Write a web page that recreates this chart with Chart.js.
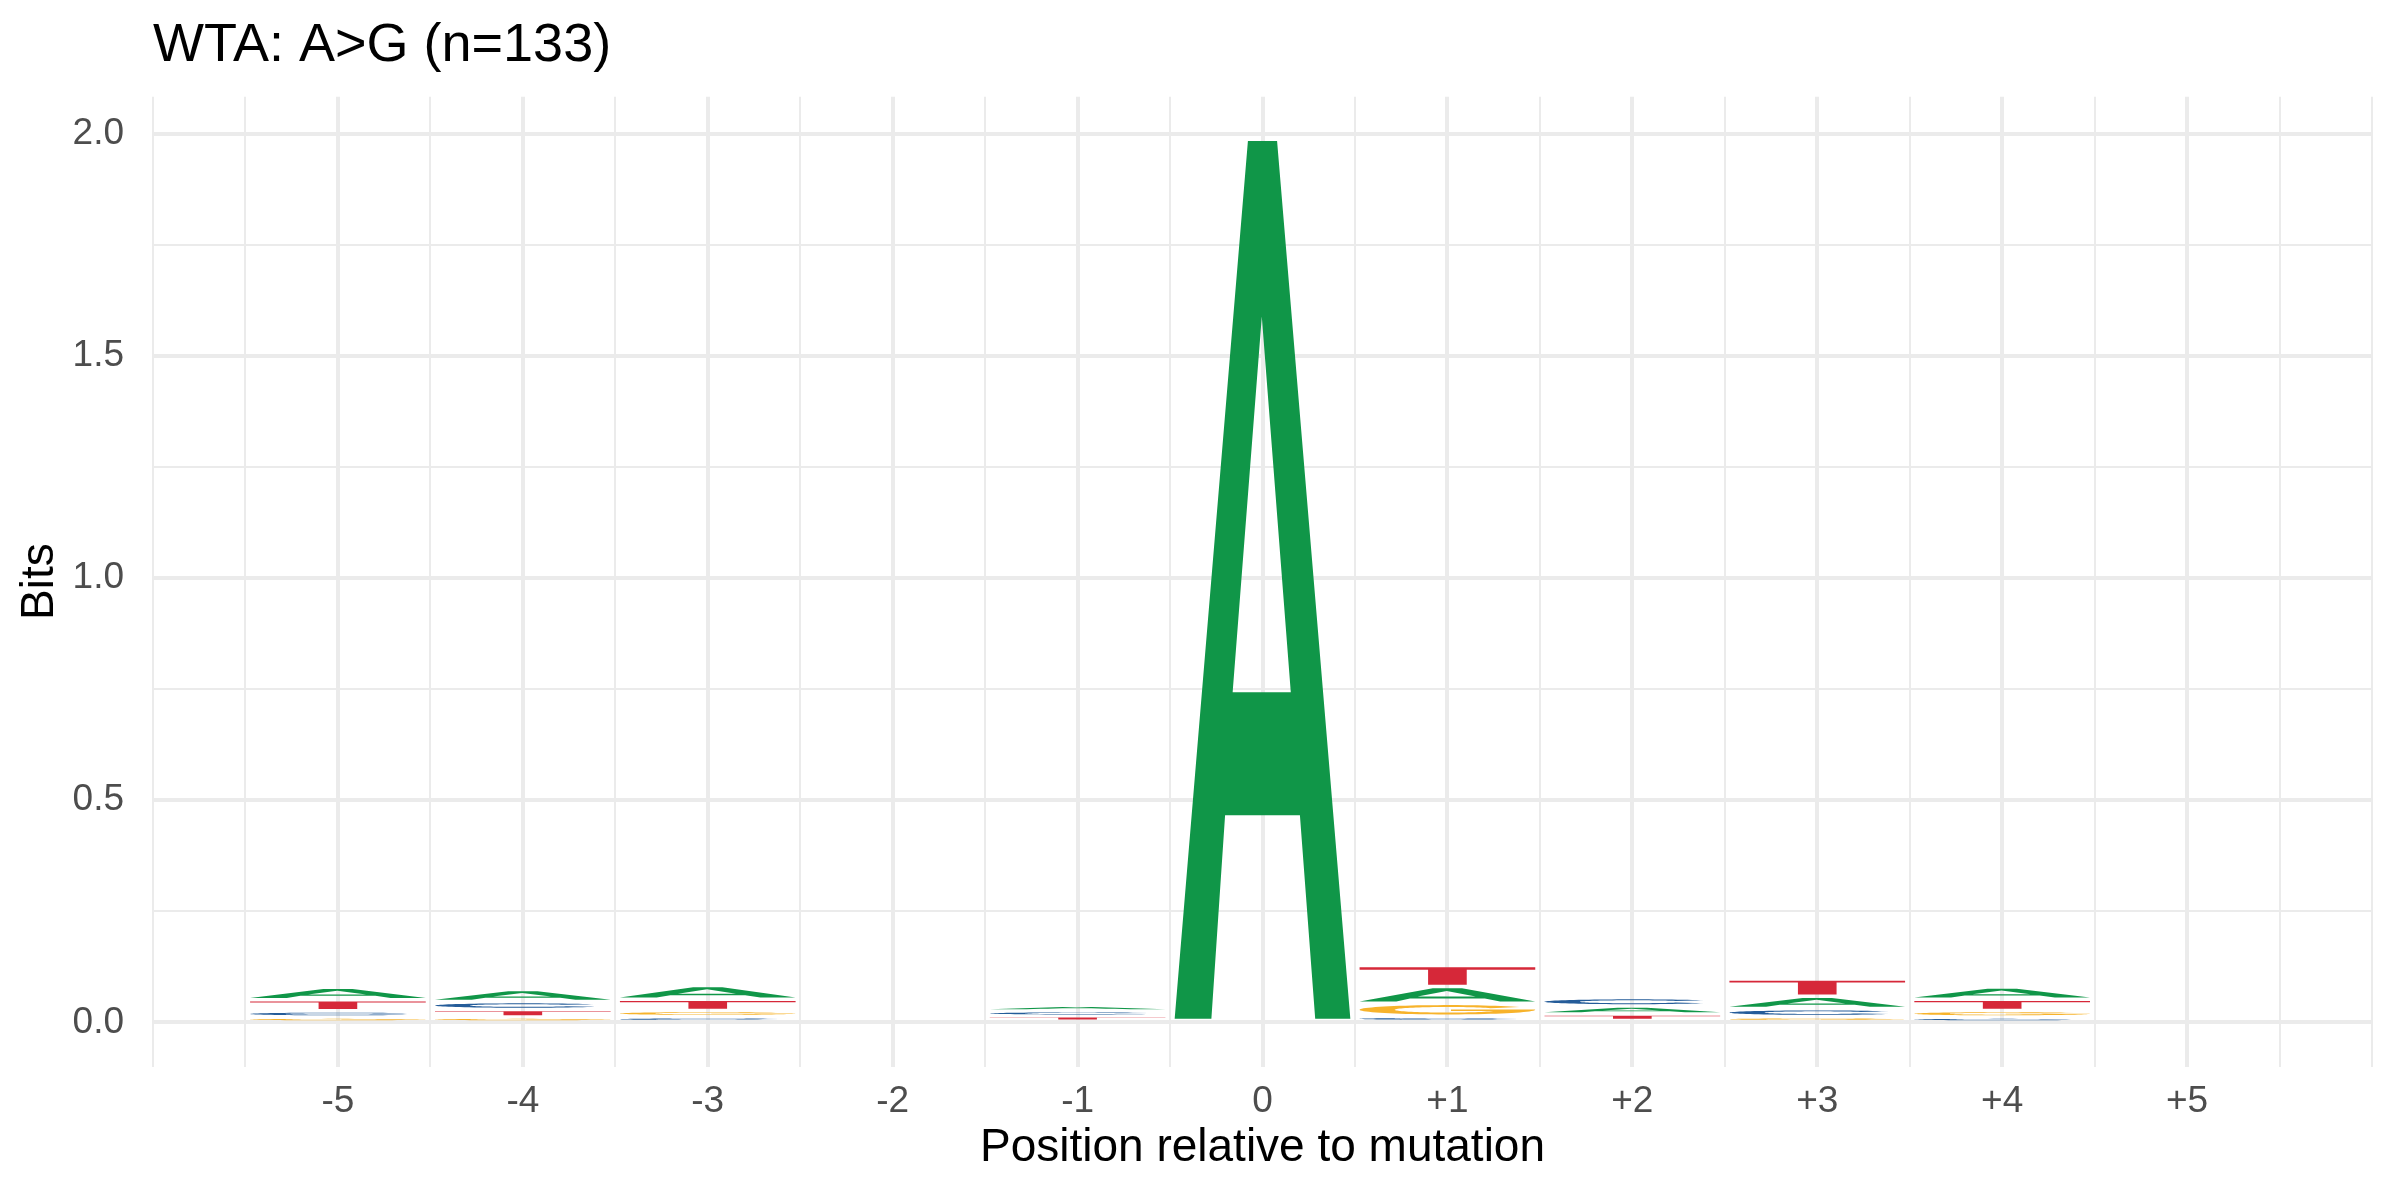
<!DOCTYPE html>
<html>
<head>
<meta charset="utf-8">
<script src="https://cdn.jsdelivr.net/npm/chart.js@4.4.1/dist/chart.umd.min.js"></script>
<style>
html,body{margin:0;padding:0;background:#ffffff;}
#wrap{width:2400px;height:1200px;}
</style>
</head>
<body>
<div id="wrap"><canvas id="c" width="2400" height="1200"></canvas></div>
<script>
// ---- data (information content in bits per letter, per position) ----
const positions      = [-5, -4, -3, -2, -1, 0, 1, 2, 3, 4, 5];
const positionLabels = ['-5', '-4', '-3', '-2', '-1', '0', '+1', '+2', '+3', '+4', '+5'];
const bitsA = [0.0285, 0.027, 0.031, 0, 0.012, 1.984, 0.038, 0.018, 0.028, 0.028, 0];
const bitsC = [0.014, 0.018, 0.009, 0, 0.0115, 0, 0.010, 0.019, 0.018, 0.008, 0];
const bitsG = [0.008, 0.008, 0.014, 0, 0, 0, 0.029, 0, 0.009, 0.015, 0];
const bitsT = [0.025, 0.017, 0.025, 0, 0.011, 0, 0.047, 0.015, 0.039, 0.025, 0];
const yTickValues = [0, 0.5, 1, 1.5, 2];
const yTickLabels = ['0.0', '0.5', '1.0', '1.5', '2.0'];
const chartTitle = 'WTA: A>G (n=133)';
const xTitle = 'Position relative to mutation';
const yTitle = 'Bits';

const FONT = '"Liberation Sans", Arial, Helvetica, sans-serif';
const letterColors = {A: '#109648', C: '#255C99', G: '#F7B32B', T: '#D62839'};
const letterOrder = ['A', 'C', 'G', 'T'];
const bitsByLetter = {A: bitsA, C: bitsC, G: bitsG, T: bitsT};
const LETTER_WIDTH = 0.95; // in x-axis units

// ---- build stacked letter boxes (largest letter on top) ----
const rankData = [[], [], [], []];
const rankLetters = [[], [], [], []];
positions.forEach((p, i) => {
  const stack = letterOrder
    .map(L => ({L, h: bitsByLetter[L][i]}))
    .filter(s => s.h > 0)
    .sort((a, b) => a.h - b.h);
  let y0 = 0;
  stack.forEach((s, r) => {
    const pad = Math.min(0.008, 0.6 * s.h);
    rankData[r].push({x: p, y: [y0 + pad, y0 + s.h]});
    rankLetters[r].push(s.L);
    y0 += s.h;
  });
});

const datasets = rankData.map((d, r) => ({
  label: 'rank' + r,
  data: d,
  letters: rankLetters[r],
  backgroundColor: 'rgba(0,0,0,0)',
  borderWidth: 0,
  grouped: false,
  categoryPercentage: 1,
  barPercentage: 1
}));

// ---- letter glyph outlines in unit box (x right, y up) ----
function arcPts(cx, cy, rx, ry, a0, a1, n) {
  const pts = [];
  for (let k = 0; k <= n; k++) {
    const a = (a0 + (a1 - a0) * k / n) * Math.PI / 180;
    pts.push([cx + rx * Math.cos(a), cy + ry * Math.sin(a)]);
  }
  return pts;
}
const GLYPHS = {
  A: [
    [[0, 0], [0.417, 1], [0.583, 1], [1, 0], [0.8, 0], [0.713, 0.232], [0.287, 0.232], [0.209, 0]],
    [[0.330, 0.372], [0.661, 0.372], [0.496, 0.80]]
  ],
  T: [
    [[0, 1], [1, 1], [1, 0.86], [0.61, 0.86], [0.61, 0], [0.39, 0], [0.39, 0.86], [0, 0.86]]
  ],
  C: [
    arcPts(0.5, 0.5, 0.5, 0.5, 35, 325, 72).concat(arcPts(0.5, 0.5, 0.30, 0.30, 325, 35, 72))
  ],
  G: [
    arcPts(0.5, 0.5, 0.5, 0.5, 35, 352, 72)
      .concat([[1, 0.54], [0.52, 0.54], [0.52, 0.38], [0.78, 0.38]])
      .concat(arcPts(0.5, 0.5, 0.30, 0.30, -25, -325, 72))
  ]
};

function drawGlyph(ctx, L, left, right, top, bottom, color) {
  const w = right - left, h = bottom - top;
  ctx.beginPath();
  GLYPHS[L].forEach(poly => {
    poly.forEach((pt, k) => {
      const px = left + pt[0] * w, py = bottom - pt[1] * h;
      if (k === 0) ctx.moveTo(px, py); else ctx.lineTo(px, py);
    });
    ctx.closePath();
  });
  ctx.fillStyle = color;
  ctx.fill('evenodd');
}

const logoPlugin = {
  id: 'seqLogo',
  afterDatasetsDraw(chart) {
    const ctx = chart.ctx;
    const xs = chart.scales.x;
    ctx.save();
    chart.data.datasets.forEach((ds, di) => {
      const meta = chart.getDatasetMeta(di);
      meta.data.forEach((el, j) => {
        const {y, base} = el.getProps(['y', 'base'], true);
        const xv = ds.data[j].x;
        const left = xs.getPixelForValue(xv - LETTER_WIDTH / 2);
        const right = xs.getPixelForValue(xv + LETTER_WIDTH / 2);
        const L = ds.letters[j];
        drawGlyph(ctx, L, left, right, Math.min(y, base), Math.max(y, base), letterColors[L]);
      });
    });
    ctx.restore();
  }
};

new Chart(document.getElementById('c'), {
  type: 'bar',
  data: {datasets},
  options: {
    responsive: false,
    animation: false,
    events: [],
    layout: {padding: {left: 0, right: 28, top: 0, bottom: 0}},
    plugins: {
      legend: {display: false},
      tooltip: {enabled: false},
      title: {
        display: true, text: chartTitle, align: 'start', fullSize: false, color: '#000000',
        font: {family: FONT, size: 54, weight: 'normal', lineHeight: 1.2},
        padding: {top: 14, bottom: 18}
      }
    },
    scales: {
      x: {
        type: 'linear', min: -6, max: 6, offset: false,
        grid: {
          offset: false, color: '#ebebeb', drawTicks: false,
          lineWidth: c => (Number.isInteger(c.tick.value) && Math.abs(c.tick.value) <= 5) ? 4 : 2
        },
        border: {display: false},
        afterBuildTicks: s => { const t = []; for (let v = -12; v <= 12; v++) t.push({value: v / 2}); s.ticks = t; },
        ticks: {
          autoSkip: false, maxRotation: 0, minRotation: 0, padding: 13, color: '#4d4d4d',
          font: {family: FONT, size: 37},
          callback: v => { const i = positions.indexOf(v); return i >= 0 ? positionLabels[i] : ''; }
        },
        title: {display: true, text: xTitle, color: '#000000', font: {family: FONT, size: 46, lineHeight: 1.2}, padding: {top: 0, bottom: 24}},
        afterFit: s => { s.height = 133.5; }
      },
      y: {
        type: 'linear', min: -0.0992, max: 2.0832,
        grid: {
          color: '#ebebeb', drawTicks: false,
          lineWidth: c => ((c.tick.value * 2) % 1 === 0) ? 4 : 2
        },
        border: {display: false},
        afterBuildTicks: s => { const t = []; for (let k = 0; k <= 8; k++) t.push({value: k * 0.25}); s.ticks = t; },
        ticks: {
          autoSkip: false, padding: 29, color: '#4d4d4d',
          font: {family: FONT, size: 37},
          callback: v => { const i = yTickValues.indexOf(v); return i >= 0 ? yTickLabels[i] : ''; }
        },
        title: {display: true, text: yTitle, color: '#000000', font: {family: FONT, size: 46, lineHeight: 1.2}, padding: {top: 13, bottom: 0}},
        afterFit: s => { s.width = 153; }
      }
    }
  },
  plugins: [logoPlugin]
});
</script>
</body>
</html>
